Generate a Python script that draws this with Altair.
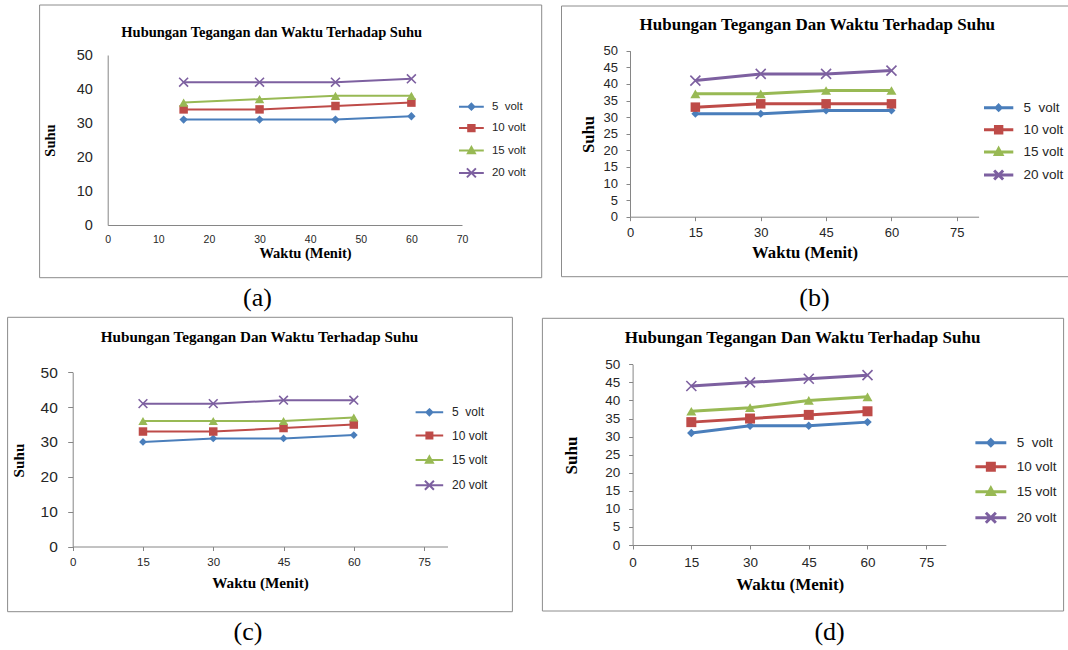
import math
import altair as alt
import pandas as pd

# ---------------- data ----------------
WAKTU = [15, 30, 45, 60]
SERIES = ["5\u00a0 volt", "10 volt", "15 volt", "20 volt"]

A_5V = [31, 31, 31, 32]
A_10V = [34, 34, 35, 36]
A_15V = [36, 37, 38, 38]
A_20V = [42, 42, 42, 43]

B_5V = [31, 31, 32, 32]
B_10V = [33, 34, 34, 34]
B_15V = [37, 37, 38, 38]
B_20V = [41, 43, 43, 44]

C_5V = [30, 31, 31, 32]
C_10V = [33, 33, 34, 35]
C_15V = [36, 36, 36, 37]
C_20V = [41, 41, 42, 42]

D_5V = [31, 33, 33, 34]
D_10V = [34, 35, 36, 37]
D_15V = [37, 38, 40, 41]
D_20V = [44, 45, 46, 47]

X_TICKS_A = [0, 10, 20, 30, 40, 50, 60, 70]
X_TICKS_BCD = [0, 15, 30, 45, 60, 75]
Y_TICKS_10 = [0, 10, 20, 30, 40, 50]
Y_TICKS_5 = [0, 5, 10, 15, 20, 25, 30, 35, 40, 45, 50]

TITLE_A = "Hubungan Tegangan dan Waktu Terhadap Suhu"
TITLE_BCD = "Hubungan Tegangan Dan Waktu Terhadap Suhu"
X_TITLE = "Waktu (Menit)"
Y_TITLE = "Suhu"

# ---------------- style ----------------
W, H = 1068, 650
COLORS = ["#4A7EBB", "#BE4B48", "#98B954", "#7D60A0"]
AXIS_GRAY = "#868686"
FRAME_GRAY = "#8C8C8C"
TEXT = "#262626"
SANS = "Liberation Sans"
SERIF = "Liberation Serif"
X_MARK = "M-1,-1L1,1M-1,1L1,-1"


def long_df(series_values):
    rows = []
    for name, vals in zip(SERIES, series_values):
        for t, v in zip(WAKTU, vals):
            rows.append({"waktu": t, "suhu": v, "series": name})
    return pd.DataFrame(rows)


def legend_paths(hl, sw, mk):
    u = 5.0  # symbolSize 100 -> sqrt = 10 -> unit = 5px
    line = f"M{-hl / u:.3f},0H{hl / u:.3f}"
    d = max(mk[0] - sw / 2, 1) / u
    s = max(mk[1] - sw / 2, 1) / u
    t = max(mk[2] - sw / 2, 1) / u
    x = mk[3] / u
    return [
        line + f"M0,{-d:.3f}L{d:.3f},0L0,{d:.3f}L{-d:.3f},0Z",
        line + f"M{-s:.3f},{-s:.3f}H{s:.3f}V{s:.3f}H{-s:.3f}Z",
        line + f"M0,{-t:.3f}L{t:.3f},{0.8 * t:.3f}H{-t:.3f}Z",
        line + f"M{-x:.3f},{-x:.3f}L{x:.3f},{x:.3f}M{-x:.3f},{x:.3f}L{x:.3f},{-x:.3f}",
    ]


PANELS = [
    dict(data=[A_5V, A_10V, A_15V, A_20V], title=TITLE_A, caption="(a)",
         frame=(39.6, 5, 541.7, 277.7), title_xy=(271.7, 33), title_fs=14.5, cap_xy=(257.5, 298),
         xdom=[0, 70], xticks=X_TICKS_A, xrange=[107.7, 462], axis_y=225,
         ticks=False, x_tick=0, x_pad=14.3, x_fs=10.5,
         yticks=Y_TICKS_10, yrange=[225, 55], axis_x=107.7, y_tick=0, y_pad=15.4, y_fs=14.5,
         at_fs=14.5, xt_xy=(305, 253), yt_xy=(51, 140),
         leg_line=(459, 483.8), leg_label=485.5, leg_first=106.7, leg_pitch=21.2, leg_fs=11.5,
         leg_fix=2.8, sw=2, msize=[70, 72, 90, 80], lmk=[4, 4.2, 4.5, 4.5]),
    dict(data=[B_5V, B_10V, B_15V, B_20V], title=TITLE_BCD, caption="(b)",
         frame=(561.5, 6, 1075, 276.7), title_xy=(817.3, 24.5), title_fs=17, cap_xy=(814.4, 298),
         xdom=[0, 80], xticks=X_TICKS_BCD, xrange=[630, 978.6], axis_y=216.7,
         ticks=True, x_tick=4, x_pad=11.6, x_fs=13,
         yticks=Y_TICKS_5, yrange=[216.7, 50.7], axis_x=630, y_tick=4, y_pad=8.5, y_fs=13,
         at_fs=16.7, xt_xy=(804.6, 252), yt_xy=(588.8, 134),
         leg_line=(984, 1013.3), leg_label=1015.5, leg_first=107.7, leg_pitch=22.4, leg_fs=13.5,
         leg_fix=5.8, sw=3, msize=[64, 90, 100, 100], lmk=[4, 4.7, 4.7, 4.5]),
    dict(data=[C_5V, C_10V, C_15V, C_20V], title=TITLE_BCD, caption="(c)",
         frame=(7.6, 317.3, 512.4, 611.7), title_xy=(259.5, 336.7), title_fs=15.2, cap_xy=(247.9, 632),
         xdom=[0, 80], xticks=X_TICKS_BCD, xrange=[72.7, 447.5], axis_y=546.5,
         ticks=True, x_tick=4, x_pad=12.2, x_fs=11.5,
         yticks=Y_TICKS_10, yrange=[546.5, 372.3], axis_x=72.7, y_tick=5, y_pad=10.4, y_fs=15.5,
         at_fs=15.2, xt_xy=(260, 582), yt_xy=(18.4, 460),
         leg_line=(415.6, 443.2), leg_label=444.2, leg_first=412.3, leg_pitch=24.5, leg_fs=12,
         leg_fix=3.2, sw=2, msize=[60, 72, 85, 76], lmk=[4, 4, 4.5, 4.5]),
    dict(data=[D_5V, D_10V, D_15V, D_20V], title=TITLE_BCD, caption="(d)",
         frame=(542.4, 318.3, 1063.6, 611), title_xy=(802.6, 337.8), title_fs=17, cap_xy=(829.6, 632),
         xdom=[0, 80], xticks=X_TICKS_BCD, xrange=[632.6, 945.8], axis_y=545,
         ticks=True, x_tick=4, x_pad=13.3, x_fs=13.5,
         yticks=Y_TICKS_5, yrange=[545, 364.3], axis_x=632.6, y_tick=4, y_pad=8.8, y_fs=13.5,
         at_fs=17, xt_xy=(789.7, 584), yt_xy=(571.5, 455),
         leg_line=(975.4, 1006.3), leg_label=1008, leg_first=442.7, leg_pitch=24.9, leg_fs=13.5,
         leg_fix=6.4, sw=3, msize=[72, 100, 100, 100], lmk=[4.5, 5, 5, 5]),
]

ONE = alt.Data(values=[{"k": 0}])


def build_panel(p):
    df = long_df(p["data"])
    sw = p["sw"]
    x_enc = alt.X(
        "waktu:Q",
        scale=alt.Scale(domain=p["xdom"], range=p["xrange"], nice=False, zero=False),
        axis=alt.Axis(
            orient="bottom", offset=p["axis_y"] - H, values=p["xticks"],
            ticks=p["ticks"], tickSize=p["x_tick"], tickColor=AXIS_GRAY, tickWidth=1,
            domainColor=AXIS_GRAY, domainWidth=1, grid=False,
            labelFont=SANS, labelFontSize=p["x_fs"], labelColor=TEXT,
            labelPadding=p["x_pad"], labelBaseline="middle", labelFlush=False, labelOverlap=False,
            title=X_TITLE, titleFont=SERIF, titleFontWeight="bold", titleFontSize=p["at_fs"],
            titleColor="black", titleX=p["xt_xy"][0], titleY=p["xt_xy"][1] - p["axis_y"],
            titleAlign="center", titleBaseline="middle", titleAngle=0,
        ),
    )
    y_enc = alt.Y(
        "suhu:Q",
        scale=alt.Scale(domain=[0, 50], range=p["yrange"], nice=False, zero=False),
        axis=alt.Axis(
            orient="left", offset=-p["axis_x"], values=p["yticks"],
            ticks=p["ticks"], tickSize=p["y_tick"], tickColor=AXIS_GRAY, tickWidth=1,
            domainColor=AXIS_GRAY, domainWidth=1, grid=False,
            labelFont=SANS, labelFontSize=p["y_fs"], labelColor=TEXT,
            labelPadding=p["y_pad"], labelFlush=False, labelOverlap=False,
            title=Y_TITLE, titleFont=SERIF, titleFontWeight="bold", titleFontSize=p["at_fs"],
            titleColor="black", titleX=p["yt_xy"][0] - p["axis_x"], titleY=p["yt_xy"][1],
            titleAlign="center", titleBaseline="middle", titleAngle=270,
        ),
    )
    layers = []
    for i, name in enumerate(SERIES):
        base = alt.Chart(df).transform_filter(alt.datum.series == name)
        layers.append(base.mark_line(color=COLORS[i], strokeWidth=sw).encode(x=x_enc, y=y_enc))
    shapes = ["diamond", "square", "triangle-up", X_MARK]
    for i, name in enumerate(SERIES):
        base = alt.Chart(df).transform_filter(alt.datum.series == name)
        if i == 3:
            mk = base.mark_point(shape=shapes[i], filled=False, size=p["msize"][i],
                                 color=COLORS[i], strokeWidth=1.6, opacity=1)
        else:
            mk = base.mark_point(shape=shapes[i], filled=True, size=p["msize"][i],
                                 color=COLORS[i], opacity=1)
        layers.append(mk.encode(x=x_enc, y=y_enc))

    size_ = max(math.ceil(10 + sw), p["leg_fs"])
    l0, l1 = p["leg_line"]
    hl = (l1 - l0) / 2
    legend = alt.Legend(
        orient="none", legendX=l0, legendY=p["leg_first"] - size_ / 2, direction="vertical",
        title=None, padding=0, rowPadding=p["leg_pitch"] - size_ - p["leg_fix"],
        symbolSize=100, symbolStrokeWidth=sw, symbolOffset=hl - size_ / 2,
        symbolOpacity=1, symbolFillColor="black", symbolStrokeColor="black",
        labelOffset=p["leg_label"] - l0 - size_, labelFont=SANS, labelFontSize=p["leg_fs"],
        labelColor=TEXT, labelLimit=300,
    )
    paths = legend_paths(hl, sw, p["lmk"])
    leg_layer = alt.Chart(df).mark_point(opacity=0, size=100, strokeWidth=sw).encode(
        x=x_enc, y=y_enc,
        fill=alt.Fill("series:N", scale=alt.Scale(domain=SERIES, range=COLORS), legend=legend),
        stroke=alt.Stroke("series:N", scale=alt.Scale(domain=SERIES, range=COLORS), legend=legend),
        shape=alt.Shape("series:N", scale=alt.Scale(domain=SERIES, range=paths), legend=legend),
    )
    layers.append(leg_layer)
    return alt.layer(*layers)


frames = []
texts = []
panels = []
for p in PANELS:
    x1, y1, x2, y2 = p["frame"]
    frames.append(
        alt.Chart(ONE).mark_rect(fillOpacity=0, stroke=FRAME_GRAY, strokeWidth=1).encode(
            x=alt.value(x1), x2=alt.value(x2), y=alt.value(y1), y2=alt.value(y2)
        )
    )
    texts.append(
        alt.Chart(ONE).mark_text(text=p["title"], font=SERIF, fontWeight="bold",
                                 fontSize=p["title_fs"], color="black",
                                 align="center", baseline="middle").encode(
            x=alt.value(p["title_xy"][0]), y=alt.value(p["title_xy"][1]))
    )
    texts.append(
        alt.Chart(ONE).mark_text(text=p["caption"], font=SERIF, fontSize=26, color="black",
                                 align="center", baseline="middle").encode(
            x=alt.value(p["cap_xy"][0]), y=alt.value(p["cap_xy"][1]))
    )
    panels.append(build_panel(p))

chart = (
    alt.layer(*frames, *panels, *texts)
    .resolve_scale(x="independent", y="independent", fill="independent",
                   stroke="independent", shape="independent")
    .properties(width=W, height=H, autosize=alt.AutoSizeParams(type="none"),
                padding=0, background="white")
    .configure_view(stroke=None)
)

chart.save("out.html", embed_options={"renderer": "svg", "actions": False})
